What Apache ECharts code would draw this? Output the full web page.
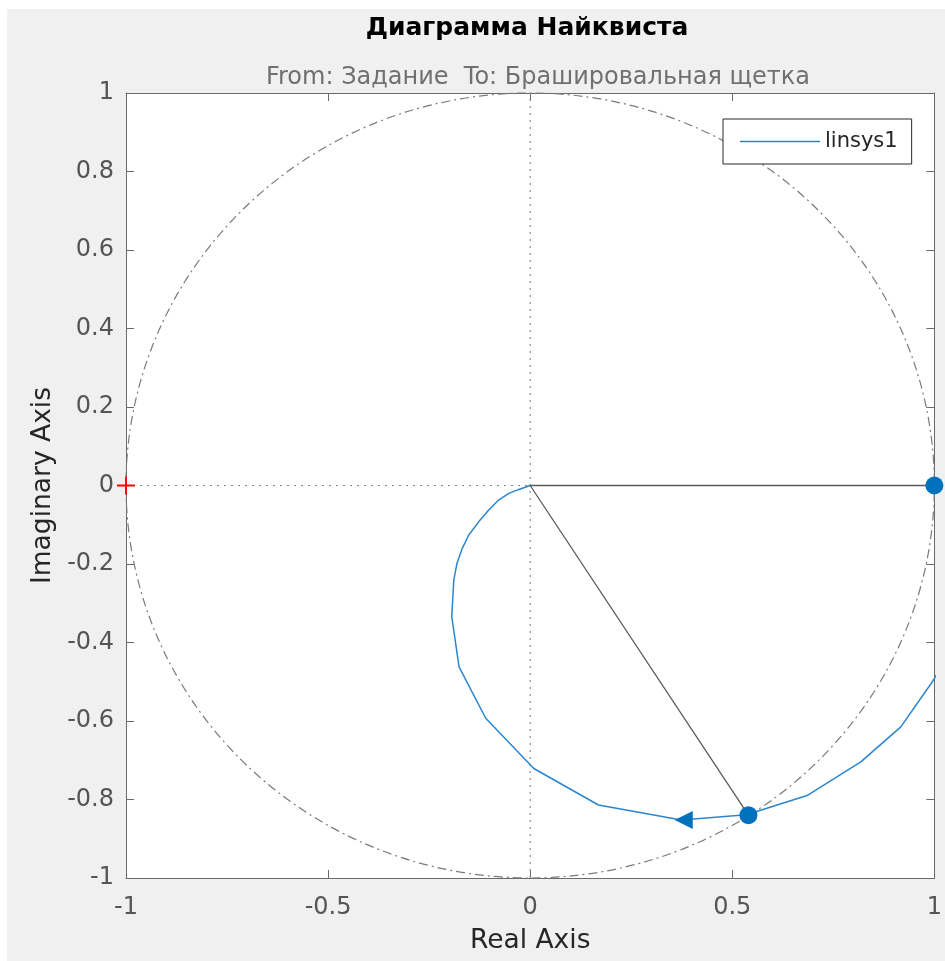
<!DOCTYPE html>
<html>
<head>
<meta charset="utf-8">
<script src="https://cdn.jsdelivr.net/npm/echarts@6/dist/echarts.min.js"></script>
<style>
  html, body { margin: 0; padding: 0; background: #fff; }
  #nyquist {
    position: absolute;
    left: 7px;
    top: 9px;
    width: 938px;
    height: 952px;
    background: #f0f0f0;
  }
</style>
</head>
<body>
<div id="nyquist"></div>
<script>
// годограф linsys1 (вещественная / мнимая часть)
const curveRe = [0, -0.028, -0.053, -0.078, -0.102, -0.127, -0.152, -0.168, -0.181, -0.189, -0.194,
  -0.176, -0.110, 0.009, 0.169, 0.374, 0.535, 0.687, 0.818, 0.917, 0.995, 1.07];
const curveIm = [0, -0.010, -0.020, -0.037, -0.062, -0.092, -0.126, -0.160, -0.198, -0.241, -0.334,
  -0.462, -0.593, -0.721, -0.814, -0.852, -0.839, -0.789, -0.704, -0.615, -0.500, -0.37];

// точки запаса (пересечение с единичной окружностью)
const marginPoints = [[0.54, -0.84], [1, 0]];
// стрелка направления
const arrowPoint = [0.38, -0.852];
// критическая точка
const criticalPoint = [-1, 0];
// единичная окружность: центр и радиус
const unitCircle = [[0, 0, 1]];

const xTicks = { min: -1, max: 1, interval: 0.5 };
const yTicks = { min: -1, max: 1, interval: 0.2 };

const font = "'DejaVu Sans', sans-serif";
const blue = '#0072BD';

const chart = echarts.init(document.getElementById('nyquist'));

const curveData = curveRe.map((x, i) => [x, curveIm[i]]);

function axisCommon(showLabel) {
  return {
    type: 'value',
    splitLine: { show: false },
    axisLine: { show: true, onZero: false, lineStyle: { color: '#6a6a6a', width: 1 } },
    axisTick: { show: true, inside: true, length: 8, lineStyle: { color: '#6a6a6a' } },
    axisLabel: { show: showLabel, color: '#555', fontSize: 24, fontFamily: font }
  };
}

chart.setOption({
  backgroundColor: '#f0f0f0',
  animation: false,
  title: [
    {
      text: 'Диаграмма Найквиста',
      left: 520,
      top: 7,
      padding: 0,
      textAlign: 'center',
      textStyle: { fontSize: 25, fontWeight: 'bold', color: '#000', fontFamily: font }
    },
    {
      text: 'From: Задание  To: Брашировальная щетка',
      left: 531,
      top: 57,
      padding: 0,
      textAlign: 'center',
      textStyle: { fontSize: 24, fontWeight: 'normal', color: '#707070', fontFamily: font }
    }
  ],
  grid: {
    left: 119,
    right: 8,
    top: 84,
    bottom: 83,
    show: true,
    backgroundColor: '#fff',
    borderWidth: 0
  },
  legend: {
    data: [{ name: 'linsys1', icon: 'path://M0,0H80V1.5H0Z' }],
    left: 716,
    top: 110,
    orient: 'vertical',
    padding: [12, 14, 12, 17],
    itemWidth: 80,
    itemHeight: 1.5,
    backgroundColor: '#fff',
    borderColor: '#262626',
    borderWidth: 1,
    borderRadius: 0,
    itemStyle: { color: '#2a86d0' },
    textStyle: { fontSize: 21, color: '#262626', fontFamily: font }
  },
  xAxis: [
    Object.assign(axisCommon(true), {
      position: 'bottom',
      min: xTicks.min, max: xTicks.max, interval: xTicks.interval,
      name: 'Real Axis',
      nameLocation: 'middle',
      nameGap: 50,
      nameTextStyle: { fontSize: 26.5, color: '#262626', fontFamily: font },
      axisLabel: { show: true, color: '#555', fontSize: 24, fontFamily: font, margin: 18 }
    }),
    Object.assign(axisCommon(false), {
      position: 'top',
      min: xTicks.min, max: xTicks.max, interval: xTicks.interval
    })
  ],
  yAxis: [
    Object.assign(axisCommon(true), {
      position: 'left',
      min: yTicks.min, max: yTicks.max, interval: yTicks.interval,
      name: 'Imaginary Axis',
      nameLocation: 'middle',
      nameGap: 67,
      nameTextStyle: { fontSize: 26.5, color: '#262626', fontFamily: font },
      axisLabel: { show: true, color: '#555', fontSize: 24, fontFamily: font, margin: 12 }
    }),
    Object.assign(axisCommon(false), {
      position: 'right',
      min: yTicks.min, max: yTicks.max, interval: yTicks.interval
    })
  ],
  series: [
    {
      // единичная окружность
      type: 'custom',
      silent: true,
      z: 1,
      data: unitCircle,
      encode: { x: 0, y: 1 },
      renderItem(params, api) {
        const c = api.coord([api.value(0), api.value(1)]);
        const s = api.size([api.value(2), api.value(2)]);
        const rx = s[0], ry = s[1];
        return {
          type: 'path',
          shape: {
            pathData: `M ${c[0] - rx} ${c[1]} A ${rx} ${ry} 0 1 0 ${c[0] + rx} ${c[1]} A ${rx} ${ry} 0 1 0 ${c[0] - rx} ${c[1]} Z`
          },
          style: { fill: null, stroke: '#7a7a7a', lineWidth: 1.2, lineDash: [9, 4, 2, 4] }
        };
      }
    },
    {
      // вертикальная пунктирная ось x=0
      type: 'line',
      silent: true,
      symbol: 'none',
      z: 2,
      data: [[0, yTicks.min], [0, yTicks.max]],
      lineStyle: { color: '#8a8a8a', width: 1.2, type: [2, 5] }
    },
    {
      // горизонтальная пунктирная ось y=0 слева
      type: 'line',
      silent: true,
      symbol: 'none',
      z: 2,
      data: [[xTicks.min, 0], [0, 0]],
      lineStyle: { color: '#8a8a8a', width: 1.2, type: [2, 5] }
    },
    {
      // линии от начала координат к точкам запаса
      type: 'line',
      silent: true,
      symbol: 'none',
      z: 3,
      data: [marginPoints[1], [0, 0], marginPoints[0]],
      lineStyle: { color: '#5a5a5a', width: 1.3 }
    },
    {
      name: 'linsys1',
      type: 'line',
      symbol: 'none',
      z: 4,
      data: curveData,
      color: '#2a86d0',
      lineStyle: { color: '#2a86d0', width: 1.5 }
    },
    {
      // стрелка
      type: 'scatter',
      silent: true,
      z: 5,
      clip: false,
      symbol: 'triangle',
      symbolSize: [18, 18],
      symbolRotate: 90,
      data: [arrowPoint],
      itemStyle: { color: blue, opacity: 1 }
    },
    {
      // точки запаса
      type: 'scatter',
      silent: true,
      z: 6,
      clip: false,
      symbol: 'circle',
      symbolSize: 18,
      data: marginPoints,
      itemStyle: { color: blue, opacity: 1 }
    },
    {
      // критическая точка (-1, 0)
      type: 'scatter',
      silent: true,
      z: 6,
      clip: false,
      symbol: 'path://M0,9H20V11H0ZM9,0H11V20H9Z',
      symbolSize: 18,
      data: [criticalPoint],
      itemStyle: { color: '#ff0000', opacity: 1 }
    }
  ]
});
</script>
</body>
</html>
